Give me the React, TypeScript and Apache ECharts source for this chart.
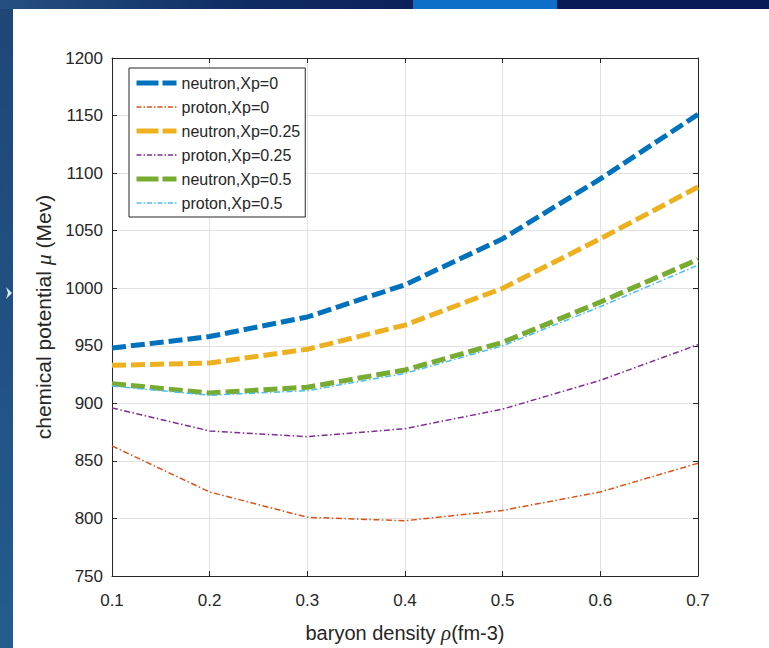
import React, { useEffect, useRef } from "react";
import * as echarts from "echarts";

const densities = [0.1, 0.2, 0.3, 0.4, 0.5, 0.6, 0.7];
const neutronXp0 = [948, 958, 975, 1003, 1043, 1095, 1151];
const protonXp0 = [863, 823, 801, 798, 807, 823, 848];
const neutronXp025 = [933, 935, 947, 968, 1000, 1043, 1088];
const protonXp025 = [896, 876, 871, 878, 895, 920, 951];
const neutronXp05 = [917, 909, 914, 929, 953, 988, 1025];
const protonXp05 = [915, 907, 911, 926, 950, 984, 1020];

const seriesNames = [
  "neutron,Xp=0",
  "proton,Xp=0",
  "neutron,Xp=0.25",
  "proton,Xp=0.25",
  "neutron,Xp=0.5",
  "proton,Xp=0.5",
];
const seriesValues = [neutronXp0, protonXp0, neutronXp025, protonXp025, neutronXp05, protonXp05];
const seriesColors = ["#0072BD", "#D95319", "#EDB120", "#7E2F8E", "#77AC30", "#4DBEEE"];
const seriesIsNeutron = [true, false, true, false, true, false];

const xMin = 0.1;
const xMax = 0.7;
const xStep = 0.1;
const yMin = 750;
const yMax = 1200;
const yStep = 50;

const FONT = "'Liberation Sans', Arial, Helvetica, sans-serif";
const SERIF = "'Liberation Serif', 'DejaVu Serif', serif";
const AX = "#262626";

export default function App() {
  const ref = useRef<HTMLDivElement>(null);
  useEffect(() => {
    if (!ref.current) return;
    const chart = echarts.init(ref.current, null, { renderer: "svg" });

    const neutronStyle = { width: 5, type: [14, 5] as number[], cap: "butt" as const };
    const protonStyle = { width: 1.5, type: [6, 2.5, 1.5, 2.5] as number[], cap: "butt" as const };

    const series = seriesNames.map((name, i) => ({
      name,
      type: "line" as const,
      xAxisIndex: 0,
      yAxisIndex: 0,
      symbol: "none",
      smooth: false,
      data: densities.map((d, k) => [d, seriesValues[i][k]]),
      lineStyle: {
        color: seriesColors[i],
        ...(seriesIsNeutron[i] ? neutronStyle : protonStyle),
      },
      itemStyle: { color: seriesColors[i] },
      z: 3 + i,
    }));

    const legendData = seriesNames.map((name, i) => ({
      name,
      itemStyle: { opacity: 0, borderWidth: 0 },
      lineStyle: {
        color: seriesColors[i],
        opacity: 1,
        ...(seriesIsNeutron[i] ? { width: 5, type: [22, 4] } : { width: 1.5, type: [5, 2, 1.5, 2] }),
      },
    }));

    const lineAxisCommon = {
      axisLine: { show: true, onZero: false, lineStyle: { color: AX, width: 1 } },
      axisTick: { show: true, inside: true, length: 5, lineStyle: { color: AX } },
    };

    chart.setOption({
      animation: false,
      backgroundColor: "#ffffff",
      textStyle: { fontFamily: FONT },
      grid: { left: 112, right: 71, top: 58, bottom: 71, containLabel: false },
      graphic: [
        {
          type: "rect",
          shape: { x: 0, y: 0, width: 13, height: 648 },
          style: {
            fill: new echarts.graphic.LinearGradient(0, 0, 0, 1, [
              { offset: 0, color: "#1e4677" },
              { offset: 1, color: "#245b8d" },
            ]),
          },
          silent: true,
        },
        {
          type: "rect",
          shape: { x: 0, y: 0, width: 413, height: 9 },
          style: {
            fill: new echarts.graphic.LinearGradient(0, 0, 1, 0, [
              { offset: 0, color: "#24507f" },
              { offset: 0.6, color: "#0f2b63" },
              { offset: 1, color: "#0b2259" },
            ]),
          },
          silent: true,
        },
        {
          type: "rect",
          shape: { x: 413, y: 0, width: 144, height: 9 },
          style: { fill: "#0e6fc8" },
          silent: true,
        },
        {
          type: "rect",
          shape: { x: 557, y: 0, width: 212, height: 9 },
          style: { fill: "#081b56" },
          silent: true,
        },
        {
          type: "polygon",
          shape: { points: [[6, 287], [12, 293], [6, 299], [8, 293]] },
          style: { fill: "#d8ecfa" },
          silent: true,
        },
      ],
      legend: {
        show: true,
        orient: "vertical",
        left: 129,
        top: 68,
        padding: [7, 5, 6, 5],
        itemWidth: 40,
        itemHeight: 16,
        itemGap: 8,
        backgroundColor: "#ffffff",
        borderColor: AX,
        borderWidth: 1,
        borderRadius: 0,
        itemStyle: { opacity: 0 },
        textStyle: { fontFamily: FONT, fontSize: 16, color: "#262626" },
        data: legendData,
      },
      xAxis: [
        {
          type: "value",
          position: "bottom",
          min: xMin,
          max: xMax,
          interval: xStep,
          name: "baryon density {i|ρ}(fm-3)",
          nameLocation: "middle",
          nameGap: 46,
          nameTextStyle: {
            fontFamily: FONT,
            fontSize: 20,
            color: AX,
            rich: { i: { fontFamily: SERIF, fontStyle: "italic", fontSize: 21, color: AX } },
          },
          axisLabel: {
            fontFamily: FONT,
            fontSize: 17,
            color: AX,
            margin: 16,
            formatter: (v: number) => v.toFixed(1),
          },
          splitLine: { show: true, lineStyle: { color: "#e2e2e2", width: 1 } },
          ...lineAxisCommon,
        },
        {
          type: "value",
          position: "top",
          min: xMin,
          max: xMax,
          interval: xStep,
          axisLabel: { show: false },
          splitLine: { show: false },
          ...lineAxisCommon,
        },
      ],
      yAxis: [
        {
          type: "value",
          position: "left",
          min: yMin,
          max: yMax,
          interval: yStep,
          name: "chemical potential {i|μ} (Mev)",
          nameLocation: "middle",
          nameGap: 52,
          nameTextStyle: {
            fontFamily: FONT,
            fontSize: 21,
            color: AX,
            rich: { i: { fontFamily: SERIF, fontStyle: "italic", fontSize: 22, color: AX } },
          },
          axisLabel: {
            fontFamily: FONT,
            fontSize: 17,
            color: AX,
            margin: 9,
            formatter: (v: number) => String(v),
          },
          splitLine: { show: true, lineStyle: { color: "#e2e2e2", width: 1 } },
          ...lineAxisCommon,
        },
        {
          type: "value",
          position: "right",
          min: yMin,
          max: yMax,
          interval: yStep,
          axisLabel: { show: false },
          splitLine: { show: false },
          ...lineAxisCommon,
        },
      ],
      series,
    });

    return () => chart.dispose();
  }, []);

  return (
    <div
      ref={ref}
      style={{ position: "absolute", left: 0, top: 0, width: 769, height: 648, background: "#fff" }}
    />
  );
}
